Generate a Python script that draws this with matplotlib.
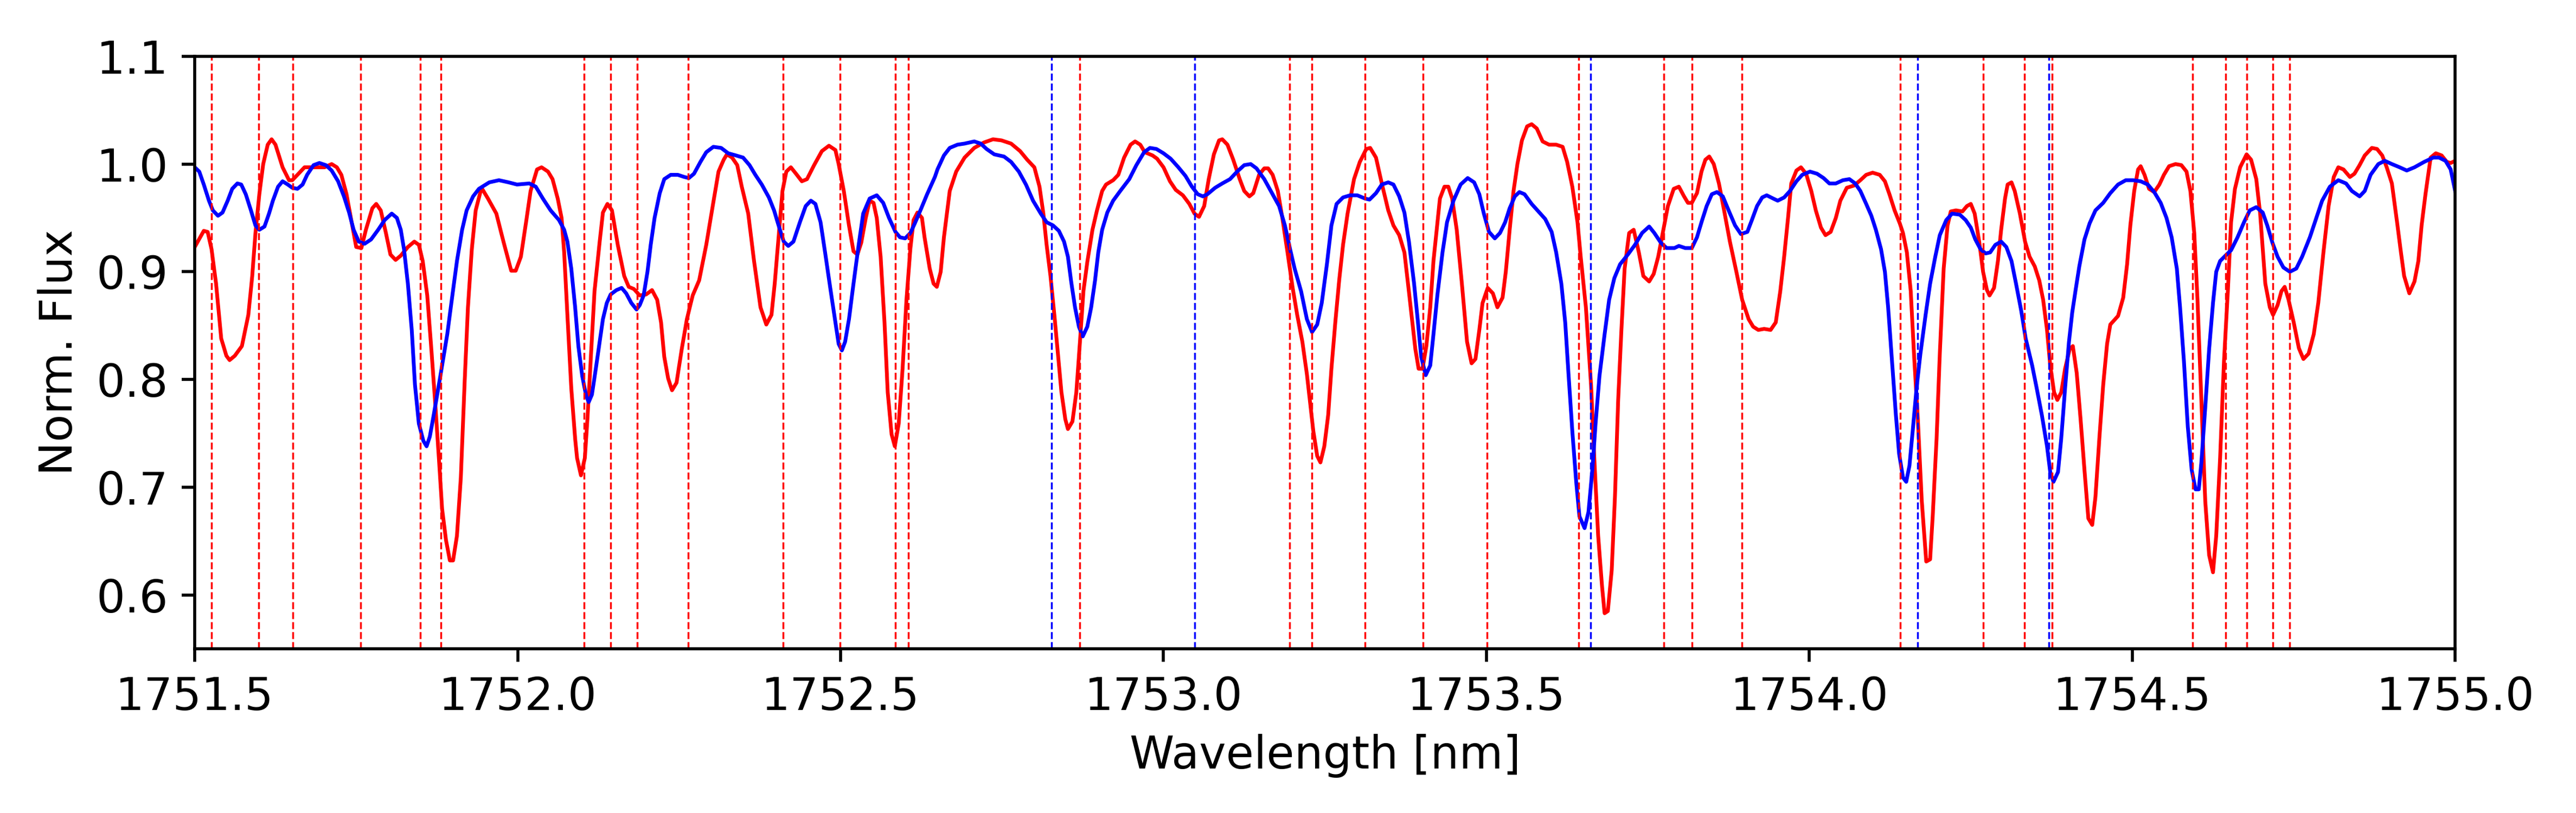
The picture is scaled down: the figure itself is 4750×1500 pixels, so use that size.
import matplotlib
matplotlib.use("Agg")
import matplotlib.pyplot as plt

# ---------------- data ----------------
red_wl = [1751.500,1751.514,1751.520,1751.526,1751.533,1751.541,1751.549,1751.554,1751.562,1751.573,1751.583,1751.589,1751.594,1751.600,1751.606,1751.613,1751.619,1751.625,1751.636,1751.646,1751.651,1751.659,1751.670,1751.686,1751.701,1751.712,1751.720,1751.727,1751.735,1751.743,1751.750,1751.758,1751.765,1751.775,1751.781,1751.788,1751.796,1751.803,1751.811,1751.819,1751.830,1751.840,1751.847,1751.853,1751.860,1751.866,1751.872,1751.878,1751.883,1751.889,1751.895,1751.900,1751.906,1751.912,1751.918,1751.923,1751.929,1751.935,1751.944,1751.954,1751.967,1751.978,1751.990,1751.997,1752.005,1752.013,1752.020,1752.030,1752.037,1752.047,1752.054,1752.062,
          1752.068,1752.072,1752.077,1752.083,1752.089,1752.092,1752.098,1752.104,1752.108,1752.113,1752.119,1752.127,1752.132,1752.139,1752.146,1752.155,1752.165,1752.172,1752.180,1752.189,1752.199,1752.208,1752.216,1752.222,1752.227,1752.233,1752.239,1752.246,1752.254,1752.262,1752.271,1752.281,1752.292,1752.302,1752.311,1752.319,1752.324,1752.332,1752.340,1752.347,1752.357,1752.366,1752.376,1752.385,1752.393,1752.398,1752.404,1752.410,1752.416,1752.423,1752.431,1752.440,1752.448,1752.459,1752.471,1752.482,1752.492,1752.497,1752.505,1752.513,1752.520,1752.526,1752.532,1752.539,1752.545,1752.551,1752.556,1752.562,1752.568,1752.573,1752.579,1752.584,1752.590,1752.596,1752.602,1752.608,1752.613,1752.619,1752.626,1752.630,1752.638,1752.644,1752.649,1752.655,1752.660,
          1752.669,1752.679,1752.692,1752.707,1752.722,1752.736,1752.749,1752.764,1752.778,1752.789,1752.800,1752.808,1752.814,1752.819,1752.825,1752.831,1752.837,1752.842,1752.848,1752.852,1752.859,1752.865,1752.871,1752.876,1752.882,1752.890,1752.897,1752.905,1752.911,1752.922,1752.930,1752.939,1752.949,1752.956,1752.964,1752.971,1752.983,1752.990,1753.000,1753.010,1753.019,1753.030,1753.040,1753.048,1753.055,1753.063,1753.070,1753.078,1753.086,1753.091,1753.099,1753.108,1753.118,1753.125,1753.133,1753.139,1753.148,1753.156,1753.162,1753.169,1753.177,1753.184,1753.192,1753.200,1753.207,1753.215,1753.222,
          1753.232,1753.238,1753.243,1753.249,1753.255,1753.260,1753.266,1753.272,1753.278,1753.285,1753.295,1753.304,1753.314,1753.320,1753.329,1753.338,1753.348,1753.356,1753.365,1753.373,1753.378,1753.384,1753.390,1753.395,1753.401,1753.407,1753.413,1753.418,1753.428,1753.435,1753.441,1753.447,1753.454,1753.462,1753.470,1753.477,1753.483,1753.489,1753.494,1753.502,1753.510,1753.517,1753.525,1753.530,1753.536,1753.542,1753.548,1753.555,1753.563,1753.570,1753.578,1753.587,1753.597,1753.608,1753.618,1753.625,1753.633,1753.641,1753.646,1753.654,1753.662,1753.667,1753.673,1753.679,1753.683,1753.688,1753.694,1753.699,1753.704,1753.709,1753.714,1753.721,1753.728,1753.736,1753.743,1753.752,1753.759,1753.766,1753.774,1753.781,1753.790,1753.798,1753.806,1753.812,
          1753.818,1753.826,1753.833,1753.839,1753.845,1753.852,1753.860,1753.868,1753.877,1753.887,1753.896,1753.906,1753.913,1753.921,1753.930,1753.940,1753.948,1753.955,1753.961,1753.967,1753.972,1753.980,1753.987,1753.995,1754.003,1754.010,1754.018,1754.025,1754.033,1754.041,1754.048,1754.058,1754.069,1754.079,1754.088,1754.098,1754.109,1754.117,1754.124,1754.132,1754.140,1754.145,1754.151,1754.157,1754.162,1754.168,1754.174,1754.181,1754.187,1754.191,1754.197,1754.202,1754.208,1754.214,1754.219,1754.227,1754.237,1754.244,1754.250,1754.256,1754.263,1754.269,1754.275,1754.279,1754.286,1754.292,1754.297,1754.303,1754.307,1754.313,1754.318,1754.326,1754.334,1754.341,1754.349,1754.356,1754.362,1754.368,1754.373,1754.379,1754.384,1754.390,1754.396,1754.403,1754.408,
          1754.414,1754.420,1754.426,1754.432,1754.438,1754.443,1754.449,1754.455,1754.461,1754.466,1754.478,1754.486,1754.492,1754.497,1754.503,1754.509,1754.513,1754.519,1754.526,1754.534,1754.542,1754.549,1754.557,1754.567,1754.576,1754.584,1754.590,1754.596,1754.601,1754.607,1754.613,1754.619,1754.625,1754.630,1754.636,1754.642,1754.648,1754.653,1754.659,1754.667,1754.677,1754.684,1754.692,1754.698,1754.706,1754.713,1754.718,1754.725,1754.731,1754.736,1754.742,1754.750,1754.758,1754.765,1754.773,1754.781,1754.788,1754.796,1754.804,1754.812,1754.819,1754.827,1754.837,1754.844,1754.852,1754.860,1754.871,1754.879,1754.887,1754.894,1754.902,1754.910,1754.916,1754.921,1754.929,1754.937,1754.943,1754.948,1754.954,1754.962,1754.970,1754.979,1754.987,1754.993,1755.000]
red_flux = [0.923,0.938,0.937,0.921,0.889,0.838,0.822,0.818,0.822,0.831,0.860,0.896,0.936,0.972,1.000,1.018,1.023,1.018,0.997,0.985,0.985,0.990,0.997,0.997,0.997,1.000,0.997,0.990,0.972,0.946,0.923,0.922,0.939,0.959,0.963,0.957,0.936,0.916,0.911,0.915,0.923,0.928,0.925,0.910,0.878,0.831,0.781,0.727,0.680,0.651,0.632,0.632,0.655,0.709,0.799,0.867,0.921,0.957,0.978,0.968,0.954,0.928,0.901,0.901,0.914,0.946,0.975,0.995,0.997,0.993,0.986,0.968,
            0.950,0.918,0.860,0.792,0.745,0.727,0.711,0.727,0.763,0.817,0.882,0.928,0.955,0.963,0.957,0.925,0.896,0.886,0.884,0.878,0.879,0.883,0.874,0.853,0.821,0.801,0.790,0.797,0.828,0.856,0.878,0.892,0.925,0.961,0.993,1.004,1.009,1.006,0.999,0.979,0.954,0.910,0.867,0.851,0.860,0.889,0.932,0.975,0.993,0.997,0.991,0.984,0.986,0.999,1.012,1.017,1.013,1.000,0.975,0.943,0.919,0.916,0.927,0.950,0.966,0.964,0.950,0.914,0.853,0.788,0.749,0.738,0.759,0.810,0.874,0.921,0.948,0.955,0.950,0.932,0.903,0.889,0.886,0.900,0.932,
            0.975,0.993,1.006,1.015,1.020,1.023,1.022,1.019,1.012,1.004,0.997,0.979,0.954,0.925,0.896,0.860,0.821,0.788,0.763,0.754,0.761,0.788,0.838,0.882,0.909,0.939,0.957,0.975,0.981,0.985,0.990,1.006,1.018,1.021,1.018,1.011,1.008,1.005,0.997,0.984,0.976,0.971,0.963,0.954,0.951,0.961,0.986,1.009,1.022,1.023,1.018,1.004,0.986,0.975,0.970,0.973,0.990,0.996,0.996,0.990,0.975,0.950,0.918,0.885,0.860,0.835,0.805,
            0.752,0.729,0.723,0.738,0.767,0.810,0.853,0.892,0.925,0.954,0.986,1.002,1.014,1.015,1.006,0.982,0.957,0.943,0.934,0.918,0.892,0.860,0.828,0.810,0.810,0.831,0.867,0.910,0.968,0.979,0.979,0.968,0.939,0.889,0.835,0.815,0.819,0.846,0.871,0.885,0.880,0.867,0.876,0.900,0.939,0.975,1.000,1.022,1.035,1.037,1.033,1.021,1.018,1.018,1.016,1.002,0.979,0.946,0.914,0.867,0.795,0.727,0.655,0.608,0.583,0.585,0.623,0.691,0.781,0.846,0.903,0.936,0.939,0.918,0.896,0.891,0.898,0.914,0.939,0.961,0.977,0.979,0.970,0.964,
            0.964,0.973,0.993,1.004,1.007,1.000,0.982,0.957,0.928,0.900,0.874,0.856,0.849,0.846,0.847,0.846,0.853,0.882,0.914,0.950,0.982,0.994,0.997,0.991,0.975,0.957,0.941,0.934,0.937,0.950,0.966,0.978,0.980,0.985,0.990,0.992,0.990,0.984,0.972,0.957,0.945,0.936,0.918,0.882,0.824,0.763,0.688,0.631,0.633,0.673,0.745,0.824,0.903,0.943,0.956,0.957,0.956,0.961,0.963,0.954,0.928,0.900,0.883,0.878,0.885,0.910,0.939,0.968,0.981,0.983,0.975,0.954,0.928,0.914,0.905,0.892,0.874,0.846,0.813,0.788,0.781,0.788,0.810,0.828,0.831,
            0.806,0.763,0.716,0.671,0.665,0.691,0.745,0.795,0.833,0.851,0.859,0.876,0.907,0.943,0.975,0.995,0.998,0.990,0.977,0.974,0.981,0.990,0.998,1.000,0.999,0.993,0.975,0.936,0.874,0.781,0.687,0.637,0.621,0.655,0.727,0.817,0.882,0.946,0.977,0.997,1.009,1.004,0.986,0.954,0.889,0.867,0.860,0.869,0.882,0.886,0.874,0.853,0.829,0.819,0.824,0.842,0.871,0.918,0.961,0.988,0.997,0.995,0.988,0.991,0.999,1.008,1.015,1.014,1.008,0.997,0.982,0.946,0.918,0.896,0.880,0.891,0.910,0.943,0.972,1.006,1.010,1.008,1.002,1.001,1.003]

blue_wl = [1751.500,1751.507,1751.514,1751.522,1751.528,1751.536,1751.543,1751.551,1751.558,1751.566,1751.572,1751.579,1751.587,1751.594,1751.600,1751.608,1751.615,1751.621,1751.629,1751.636,1751.644,1751.651,1751.659,1751.667,1751.674,1751.684,1751.693,1751.703,1751.712,1751.722,1751.731,1751.739,1751.746,1751.754,1751.763,1751.773,1751.784,1751.794,1751.805,1751.813,1751.819,1751.824,1751.830,1751.836,1751.841,1751.847,1751.854,1751.859,1751.864,1751.870,1751.876,1751.883,1751.891,1751.898,1751.906,1751.914,1751.921,1751.931,1751.940,1751.956,1751.971,1751.986,1751.999,1752.018,1752.028,1752.039,1752.051,1752.064,
           1752.072,1752.077,1752.083,1752.089,1752.094,1752.100,1752.106,1752.110,1752.115,1752.121,1752.127,1752.132,1752.138,1752.144,1752.153,1752.161,1752.168,1752.176,1752.184,1752.189,1752.195,1752.201,1752.206,1752.212,1752.220,1752.227,1752.237,1752.248,1752.258,1752.265,1752.273,1752.283,1752.292,1752.303,1752.315,1752.326,1752.338,1752.349,1752.359,1752.368,1752.378,1752.389,1752.397,1752.404,1752.412,1752.419,1752.427,1752.437,1752.446,1752.454,1752.461,1752.469,1752.476,1752.484,1752.492,1752.497,1752.502,1752.507,1752.513,1752.520,1752.528,1752.535,1752.545,1752.556,1752.566,1752.575,1752.585,1752.592,1752.600,1752.608,1752.615,1752.625,1752.634,1752.646,
           1752.650,1752.660,1752.669,1752.681,1752.692,1752.707,1752.717,1752.726,1752.738,1752.753,1752.764,1752.776,1752.787,1752.798,1752.810,1752.819,1752.829,1752.838,1752.846,1752.852,1752.857,1752.863,1752.869,1752.875,1752.882,1752.888,1752.894,1752.899,1752.905,1752.913,1752.922,1752.933,1752.947,1752.958,1752.970,1752.979,1752.989,1753.000,1753.011,1753.023,1753.034,1753.044,1753.053,1753.061,1753.068,1753.080,1753.091,1753.103,1753.114,1753.125,1753.135,1753.144,1753.156,1753.167,1753.179,1753.188,1753.196,1753.203,1753.213,1753.222,
           1753.230,1753.238,1753.245,1753.253,1753.260,1753.268,1753.278,1753.289,1753.300,1753.312,1753.319,1753.329,1753.338,1753.348,1753.356,1753.365,1753.373,1753.380,1753.388,1753.394,1753.399,1753.406,1753.413,1753.418,1753.424,1753.432,1753.439,1753.449,1753.460,1753.471,1753.481,1753.489,1753.496,1753.504,1753.513,1753.521,1753.529,1753.536,1753.544,1753.551,1753.559,1753.570,1753.582,1753.591,1753.601,1753.608,1753.616,1753.622,1753.627,1753.633,1753.639,1753.644,1753.652,1753.658,1753.664,1753.669,1753.675,1753.683,1753.690,1753.698,1753.707,1753.719,1753.730,1753.741,1753.752,1753.760,1753.770,1753.779,1753.791,1753.798,1753.808,
           1753.818,1753.826,1753.833,1753.841,1753.849,1753.857,1753.866,1753.875,1753.885,1753.894,1753.904,1753.911,1753.919,1753.927,1753.934,1753.944,1753.951,1753.961,1753.970,1753.980,1753.989,1754.001,1754.012,1754.022,1754.031,1754.041,1754.052,1754.062,1754.071,1754.079,1754.088,1754.096,1754.103,1754.111,1754.117,1754.122,1754.128,1754.134,1754.139,1754.145,1754.150,1754.155,1754.160,1754.166,1754.172,1754.180,1754.187,1754.195,1754.202,1754.212,1754.221,1754.233,1754.242,1754.250,1754.257,1754.265,1754.273,1754.280,1754.288,1754.297,1754.305,1754.313,1754.320,1754.328,1754.335,1754.345,1754.352,1754.360,1754.368,1754.373,1754.378,1754.385,1754.390,1754.396,1754.402,
           1754.407,1754.412,1754.418,1754.426,1754.434,1754.443,1754.455,1754.466,1754.478,1754.490,1754.501,1754.513,1754.524,1754.534,1754.544,1754.553,1754.561,1754.569,1754.574,1754.580,1754.586,1754.592,1754.598,1754.603,1754.607,1754.613,1754.619,1754.625,1754.630,1754.636,1754.646,1754.653,1754.663,1754.673,1754.682,1754.692,1754.702,1754.709,1754.717,1754.725,1754.734,1754.744,1754.754,1754.763,1754.775,1754.785,1754.794,1754.806,1754.819,1754.831,1754.840,1754.852,1754.860,1754.869,1754.881,1754.891,1754.902,1754.914,1754.925,1754.937,1754.952,1754.966,1754.975,1754.985,1754.993,1755.000]
blue_flux = [0.997,0.993,0.981,0.966,0.957,0.952,0.955,0.966,0.977,0.982,0.981,0.972,0.957,0.943,0.939,0.942,0.954,0.966,0.979,0.984,0.981,0.978,0.977,0.981,0.990,0.999,1.001,0.999,0.994,0.984,0.970,0.955,0.939,0.928,0.926,0.930,0.939,0.948,0.954,0.950,0.939,0.921,0.889,0.846,0.795,0.759,0.743,0.738,0.747,0.767,0.788,0.813,0.842,0.874,0.910,0.939,0.957,0.970,0.977,0.983,0.985,0.983,0.981,0.982,0.979,0.968,0.957,0.948,
             0.939,0.928,0.903,0.867,0.831,0.803,0.785,0.779,0.786,0.810,0.835,0.856,0.871,0.879,0.883,0.885,0.880,0.871,0.865,0.869,0.878,0.900,0.925,0.950,0.973,0.986,0.990,0.990,0.988,0.987,0.991,1.002,1.011,1.016,1.015,1.010,1.008,1.006,0.999,0.990,0.981,0.969,0.957,0.943,0.928,0.924,0.928,0.946,0.961,0.966,0.963,0.946,0.918,0.885,0.853,0.833,0.827,0.835,0.856,0.889,0.925,0.954,0.968,0.971,0.964,0.950,0.937,0.932,0.931,0.936,0.945,0.959,0.972,0.988,
             0.995,1.008,1.015,1.018,1.019,1.021,1.019,1.014,1.009,1.007,1.002,0.993,0.981,0.966,0.954,0.946,0.943,0.938,0.928,0.914,0.891,0.867,0.849,0.840,0.849,0.867,0.892,0.918,0.939,0.955,0.966,0.975,0.986,0.999,1.011,1.015,1.014,1.010,1.005,0.997,0.989,0.979,0.972,0.970,0.972,0.978,0.982,0.986,0.993,0.999,1.000,0.996,0.986,0.974,0.961,0.943,0.921,0.903,0.882,0.856,
             0.844,0.851,0.871,0.907,0.943,0.963,0.969,0.971,0.971,0.968,0.967,0.973,0.981,0.983,0.981,0.970,0.955,0.928,0.889,0.853,0.821,0.804,0.813,0.842,0.878,0.918,0.946,0.966,0.981,0.987,0.983,0.972,0.954,0.937,0.931,0.936,0.946,0.959,0.970,0.974,0.972,0.963,0.955,0.949,0.937,0.918,0.889,0.853,0.806,0.752,0.705,0.673,0.662,0.677,0.716,0.759,0.803,0.842,0.874,0.894,0.907,0.916,0.925,0.936,0.942,0.936,0.927,0.922,0.922,0.924,0.922,
             0.922,0.932,0.946,0.961,0.972,0.974,0.970,0.957,0.943,0.935,0.937,0.948,0.961,0.969,0.971,0.968,0.966,0.969,0.975,0.984,0.990,0.993,0.991,0.987,0.982,0.982,0.985,0.986,0.982,0.975,0.963,0.952,0.939,0.921,0.900,0.867,0.817,0.767,0.731,0.709,0.705,0.720,0.752,0.792,0.824,0.860,0.889,0.914,0.934,0.948,0.954,0.953,0.948,0.941,0.930,0.921,0.917,0.918,0.925,0.928,0.923,0.910,0.889,0.864,0.838,0.813,0.792,0.767,0.738,0.714,0.705,0.714,0.745,0.792,0.835,
             0.862,0.882,0.905,0.930,0.945,0.957,0.964,0.973,0.981,0.985,0.985,0.984,0.981,0.974,0.964,0.950,0.932,0.903,0.867,0.817,0.756,0.716,0.698,0.698,0.723,0.774,0.828,0.871,0.900,0.910,0.916,0.920,0.932,0.946,0.957,0.960,0.955,0.943,0.927,0.914,0.904,0.900,0.903,0.914,0.932,0.950,0.966,0.979,0.985,0.982,0.975,0.970,0.975,0.990,1.000,1.003,1.000,0.997,0.994,0.997,1.002,1.006,1.006,1.003,0.995,0.975]

red_lines = [1751.526,1751.599,1751.652,1751.757,1751.849,1751.881,1752.103,1752.144,1752.185,1752.264,1752.411,1752.499,1752.585,1752.605,1752.870,1753.195,1753.230,1753.312,1753.402,1753.501,1753.643,1753.775,1753.818,1753.896,1754.141,1754.269,1754.333,1754.376,1754.593,1754.645,1754.677,1754.718,1754.744]
blue_lines = [1752.827,1753.048,1753.661,1754.168,1754.371]

x_ticks = [1751.5,1752.0,1752.5,1753.0,1753.5,1754.0,1754.5,1755.0]
y_ticks = [0.6,0.7,0.8,0.9,1.0,1.1]

# ---------------- plot ----------------
plt.rcParams['font.family'] = ['DejaVu Sans']
plt.rcParams['font.size'] = 12

fig = plt.figure(figsize=(9.5, 3), dpi=500)
ax = fig.add_axes([0.0756, 0.202, 0.9531 - 0.0756, 0.9307 - 0.202])

ax.plot(red_wl, red_flux, color='red', lw=1.0)
ax.plot(blue_wl, blue_flux, color='blue', lw=1.0)

for x in red_lines:
    ax.axvline(x, color='red', ls='--', lw=0.5)
for x in blue_lines:
    ax.axvline(x, color='blue', ls='--', lw=0.5)

ax.set_xlim(1751.5, 1755.0)
ax.set_ylim(0.55, 1.1)
ax.set_xticks(x_ticks)
ax.set_xticklabels([f"{v:.1f}" for v in x_ticks])
ax.set_yticks(y_ticks)
ax.set_yticklabels([f"{v:.1f}" for v in y_ticks])
ax.set_xlabel("Wavelength [nm]")
ax.set_ylabel("Norm. Flux")

fig.savefig("out.png", dpi=500)
